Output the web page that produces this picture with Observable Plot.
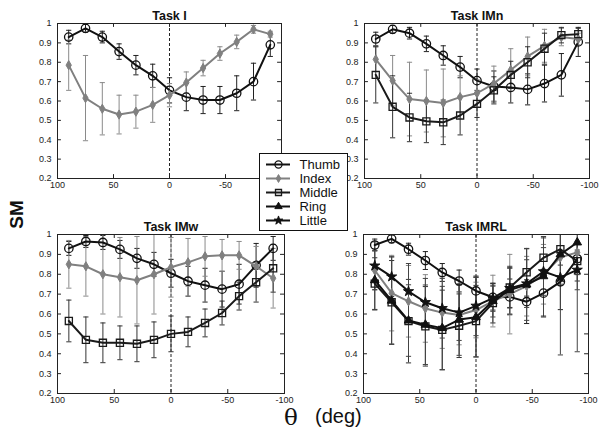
<!DOCTYPE html>
<html><head><meta charset="utf-8">
<script src="https://cdn.jsdelivr.net/npm/d3@7"></script>
<script src="https://cdn.jsdelivr.net/npm/@observablehq/plot@0.6"></script>
<style>
html,body{margin:0;padding:0;background:#fff;}
#chart{position:relative;width:601px;height:432px;overflow:hidden;background:#fff;font-family:"Liberation Sans",Arial,sans-serif;}
.panel{position:absolute;}
.legend{position:absolute;left:259px;top:153px;background:#fff;border:1px solid #111;box-sizing:border-box;width:89px;height:78px;z-index:5;}
.sm{position:absolute;left:-2px;top:205px;width:36px;line-height:1;text-align:center;transform:rotate(-90deg);font-size:19px;font-weight:bold;color:#111;}
.theta{position:absolute;left:284px;top:406px;line-height:1;font-family:"DejaVu Serif",serif;font-size:23px;color:#111;}
.deg{position:absolute;left:315px;top:406px;line-height:1;font-size:20px;color:#111;}
</style></head><body><div id="chart"></div><script>
// ---- data ----
const theta = [90, 75, 60, 45, 30, 15, 0, -15, -30, -45, -60, -75, -90];
const fingers = ["Thumb", "Index", "Middle", "Ring", "Little"];
const xTicks = [100, 50, 0, -50, -100];
const yTicks = [0.2, 0.3, 0.4, 0.5, 0.6, 0.7, 0.8, 0.9, 1];
const titles = ["Task I", "Task IMn", "Task IMw", "Task IMRL"];

// Task I
const taskI_thumb     = [0.93, 0.975, 0.93, 0.855, 0.785, 0.73, 0.655, 0.62, 0.605, 0.605, 0.64, 0.70, 0.89];
const taskI_thumb_err = [0.035, 0.02, 0.03, 0.04, 0.05, 0.06, 0.065, 0.07, 0.07, 0.07, 0.09, 0.095, 0.06];
const taskI_index     = [0.785, 0.615, 0.56, 0.53, 0.545, 0.58, 0.63, 0.695, 0.77, 0.845, 0.905, 0.97, 0.945];
const taskI_index_err = [0.13, 0.22, 0.135, 0.10, 0.085, 0.09, 0.06, 0.055, 0.04, 0.035, 0.035, 0.02, 0.015];

// Task IMn
const taskIMn_thumb      = [0.92, 0.97, 0.95, 0.895, 0.835, 0.775, 0.705, 0.675, 0.67, 0.66, 0.69, 0.735, 0.905];
const taskIMn_thumb_err  = [0.035, 0.02, 0.03, 0.04, 0.05, 0.055, 0.06, 0.08, 0.08, 0.08, 0.095, 0.11, 0.075];
const taskIMn_index      = [0.815, 0.705, 0.61, 0.60, 0.59, 0.62, 0.64, 0.69, 0.76, 0.83, 0.885, 0.93, 0.92];
const taskIMn_index_err  = [0.065, 0.13, 0.19, 0.16, 0.175, 0.11, 0.07, 0.09, 0.11, 0.10, 0.085, 0.045, 0.03];
const taskIMn_middle     = [0.735, 0.57, 0.515, 0.495, 0.49, 0.525, 0.585, 0.655, 0.735, 0.80, 0.87, 0.94, 0.945];
const taskIMn_middle_err = [0.145, 0.16, 0.125, 0.11, 0.115, 0.10, 0.07, 0.07, 0.07, 0.08, 0.08, 0.04, 0.03];

// Task IMw
const taskIMw_thumb      = [0.93, 0.965, 0.96, 0.925, 0.88, 0.85, 0.805, 0.765, 0.745, 0.725, 0.75, 0.845, 0.93];
const taskIMw_thumb_err  = [0.035, 0.03, 0.035, 0.045, 0.05, 0.06, 0.07, 0.075, 0.085, 0.09, 0.10, 0.11, 0.06];
const taskIMw_index      = [0.85, 0.84, 0.80, 0.785, 0.77, 0.80, 0.835, 0.86, 0.89, 0.895, 0.895, 0.84, 0.78];
const taskIMw_index_err  = [0.12, 0.15, 0.20, 0.20, 0.22, 0.20, 0.15, 0.12, 0.10, 0.08, 0.07, 0.10, 0.15];
const taskIMw_middle     = [0.565, 0.47, 0.455, 0.455, 0.45, 0.47, 0.50, 0.51, 0.555, 0.605, 0.69, 0.76, 0.83];
const taskIMw_middle_err = [0.105, 0.115, 0.10, 0.085, 0.09, 0.09, 0.09, 0.075, 0.07, 0.06, 0.07, 0.10, 0.12];

// Task IMRL
const taskIMRL_thumb      = [0.947, 0.978, 0.926, 0.869, 0.809, 0.766, 0.716, 0.684, 0.686, 0.662, 0.705, 0.762, 0.878];
const taskIMRL_thumb_err  = [0.03, 0.02, 0.03, 0.045, 0.045, 0.055, 0.07, 0.07, 0.09, 0.11, 0.12, 0.14, 0.08];
const taskIMRL_index      = [0.82, 0.705, 0.664, 0.628, 0.607, 0.595, 0.62, 0.665, 0.70, 0.74, 0.80, 0.885, 0.91];
const taskIMRL_index_err  = [0.10, 0.19, 0.18, 0.17, 0.18, 0.15, 0.14, 0.13, 0.20, 0.15, 0.15, 0.12, 0.10];
const taskIMRL_middle     = [0.753, 0.659, 0.564, 0.538, 0.52, 0.541, 0.564, 0.655, 0.733, 0.81, 0.883, 0.926, 0.866];
const taskIMRL_middle_err = [0.13, 0.21, 0.21, 0.20, 0.20, 0.16, 0.18, 0.10, 0.10, 0.12, 0.10, 0.08, 0.10];
const taskIMRL_ring       = [0.77, 0.667, 0.567, 0.546, 0.529, 0.572, 0.584, 0.665, 0.72, 0.748, 0.79, 0.90, 0.96];
const taskIMRL_ring_err   = [0.15, 0.22, 0.18, 0.20, 0.21, 0.18, 0.20, 0.08, 0.12, 0.18, 0.20, 0.15, 0.55];
const taskIMRL_little     = [0.843, 0.788, 0.714, 0.659, 0.629, 0.607, 0.641, 0.68, 0.73, 0.753, 0.814, 0.784, 0.822];
const taskIMRL_little_err = [0.12, 0.10, 0.14, 0.12, 0.15, 0.14, 0.15, 0.06, 0.10, 0.12, 0.12, 0.39, 0.10];

// ---- styles ----
const styles = {
  Thumb:  {stroke: "#111", err: "#222", symbol: "circle",   fill: "none",    r: 4.2, sw: 1.3, lw: 2},
  Index:  {stroke: "#808080", err: "#8a8a8a", symbol: "diamond", fill: "#808080", r: 2.8, sw: 1, lw: 2},
  Middle: {stroke: "#1a1a1a", err: "#333", symbol: "square",   fill: "none",    r: 4.0, sw: 1.3, lw: 2},
  Ring:   {stroke: "#111", err: "#444", symbol: "triangle", fill: "#111",    r: 3.2, sw: 1, lw: 2},
  Little: {stroke: "#111", err: "#444", symbol: "star",     fill: "#111",    r: 3.2, sw: 1, lw: 2}
};
const cap = {draw(ctx) { ctx.moveTo(-2.6, 0); ctx.lineTo(2.6, 0); }};
const FONT = '"Liberation Sans", Arial, sans-serif';

const panels = [
  {title: titles[0], series: [["Thumb", taskI_thumb, taskI_thumb_err], ["Index", taskI_index, taskI_index_err]],
   pos: {left: 0, top: 0, width: 300, height: 200, mt: 23, mb: 22, ml: 57, mr: 19}},
  {title: titles[1], series: [["Thumb", taskIMn_thumb, taskIMn_thumb_err], ["Index", taskIMn_index, taskIMn_index_err], ["Middle", taskIMn_middle, taskIMn_middle_err]],
   pos: {left: 300, top: 0, width: 301, height: 200, mt: 23, mb: 22, ml: 64, mr: 12}},
  {title: titles[2], series: [["Thumb", taskIMw_thumb, taskIMw_thumb_err], ["Index", taskIMw_index, taskIMw_index_err], ["Middle", taskIMw_middle, taskIMw_middle_err]],
   pos: {left: 0, top: 210, width: 300, height: 200, mt: 24, mb: 17, ml: 57, mr: 16}},
  {title: titles[3], series: [["Thumb", taskIMRL_thumb, taskIMRL_thumb_err], ["Index", taskIMRL_index, taskIMRL_index_err], ["Middle", taskIMRL_middle, taskIMRL_middle_err], ["Ring", taskIMRL_ring, taskIMRL_ring_err], ["Little", taskIMRL_little, taskIMRL_little_err]],
   pos: {left: 300, top: 210, width: 301, height: 200, mt: 24, mb: 17, ml: 63, mr: 13}}
];

const chart = document.getElementById("chart");

function makePanel(p) {
  const rows = p.series.map(([name, ys, es]) => theta.map((x, i) => ({name, x, y: ys[i], e: es[i]})));
  const marks = [];
  // inward ticks
  marks.push(Plot.ruleX(xTicks, {x: d => d, y1: 0.2, y2: 0.22, stroke: "#222"}));
  marks.push(Plot.ruleX(xTicks, {x: d => d, y1: 1, y2: 0.98, stroke: "#222"}));
  marks.push(Plot.ruleY(yTicks, {y: d => d, x1: 100, x2: 96.5, stroke: "#222"}));
  marks.push(Plot.ruleY(yTicks, {y: d => d, x1: -100, x2: -96.5, stroke: "#222"}));
  // dashed zero line
  marks.push(Plot.ruleX([0], {stroke: "#222", strokeDasharray: "3,2", strokeWidth: 1}));
  // error bars
  rows.forEach(r => {
    const st = styles[r[0].name];
    marks.push(Plot.ruleX(r, {x: "x", y1: d => d.y - d.e, y2: d => d.y + d.e, stroke: st.err, strokeWidth: 1, clip: true}));
    marks.push(Plot.dot(r, {x: "x", y: d => d.y + d.e, symbol: cap, stroke: st.err, fill: "none", strokeWidth: 1, clip: true}));
    marks.push(Plot.dot(r, {x: "x", y: d => d.y - d.e, symbol: cap, stroke: st.err, fill: "none", strokeWidth: 1, clip: true}));
  });
  // lines + markers
  rows.forEach(r => {
    const st = styles[r[0].name];
    marks.push(Plot.line(r, {x: "x", y: "y", stroke: st.stroke, strokeWidth: st.lw}));
    marks.push(Plot.dot(r, {x: "x", y: "y", symbol: st.symbol, r: st.r, stroke: st.stroke, fill: st.fill, strokeWidth: st.sw}));
  });
  marks.push(Plot.frame({stroke: "#222", strokeWidth: 1}));
  marks.push(Plot.axisX({ticks: xTicks, tickSize: 0, tickPadding: 3, tickFormat: d => String(d), label: null, fontSize: 9, fill: "#222"}));
  marks.push(Plot.axisY({ticks: yTicks, tickSize: 0, tickPadding: 6, tickFormat: d => d === 1 ? "1" : d.toFixed(1), label: null, fontSize: 9, fill: "#222"}));
  marks.push(Plot.text([p.title], {frameAnchor: "top", dy: -12, fontWeight: "bold", fontSize: 12.5, fill: "#111"}));
  const pos = p.pos;
  const svg = Plot.plot({
    width: pos.width, height: pos.height,
    marginTop: pos.mt, marginBottom: pos.mb, marginLeft: pos.ml, marginRight: pos.mr,
    x: {domain: [100, -100], axis: null},
    y: {domain: [0.2, 1], axis: null},
    style: {fontFamily: FONT, background: "transparent", overflow: "visible", fontSize: "9px"},
    marks
  });
  svg.classList.add("panel");
  svg.style.position = "absolute";
  svg.style.left = pos.left + "px";
  svg.style.top = pos.top + "px";
  chart.appendChild(svg);
}
panels.forEach(makePanel);

// legend
const legend = Plot.plot({
  width: 87, height: 76,
  marginTop: 8, marginBottom: 9, marginLeft: 0, marginRight: 0,
  x: {domain: [0, 87], range: [0, 87], axis: null},
  y: {type: "point", domain: fingers, padding: 0, axis: null},
  style: {fontFamily: FONT, background: "transparent", overflow: "visible"},
  marks: [
    Plot.ruleY(fingers, {y: d => d, x1: 6, x2: 30, stroke: d => styles[d].stroke, strokeWidth: 2}),
    ...fingers.map(f => Plot.dot([f], {y: d => d, x: 18, symbol: styles[f].symbol, r: styles[f].r * 0.85, stroke: styles[f].stroke, fill: styles[f].fill, strokeWidth: styles[f].sw})),
    Plot.text(fingers, {y: d => d, x: 39, text: d => d, textAnchor: "start", fontSize: 13, fill: "#111"})
  ]
});
const lg = document.createElement("div");
lg.className = "legend";
lg.appendChild(legend);
chart.appendChild(lg);

// axis titles
const sm = document.createElement("div"); sm.className = "sm"; sm.textContent = "SM"; chart.appendChild(sm);
const th = document.createElement("div"); th.className = "theta"; th.textContent = "θ"; chart.appendChild(th);
const dg = document.createElement("div"); dg.className = "deg"; dg.textContent = "(deg)"; chart.appendChild(dg);
</script></body></html>
